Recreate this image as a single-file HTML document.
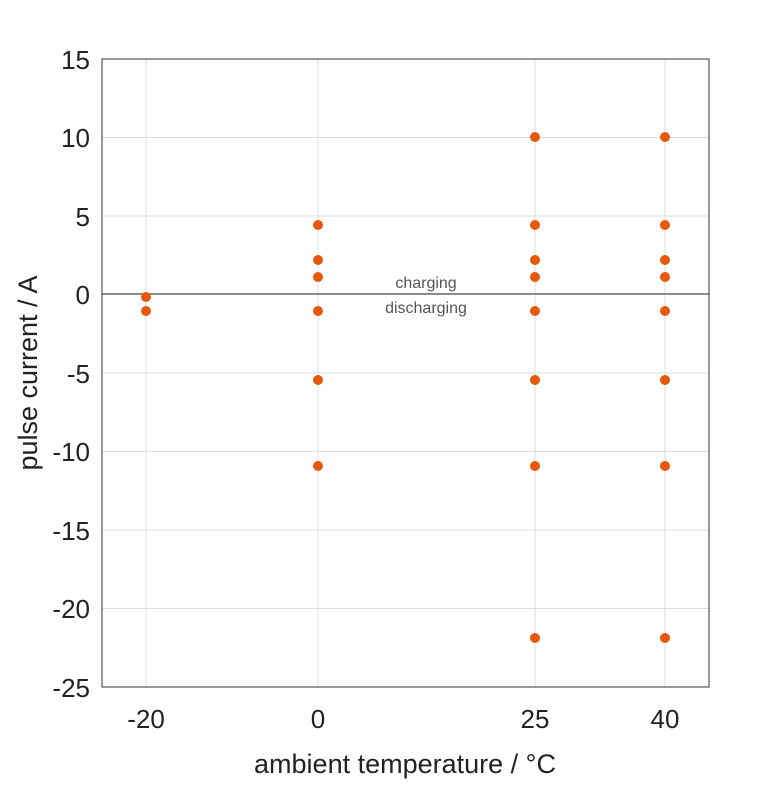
<!DOCTYPE html>
<html><head><style>body{margin:0;background:#fff}</style></head><body>
<svg width="781" height="781" xmlns="http://www.w3.org/2000/svg" font-family="Liberation Sans, sans-serif">
<rect width="781" height="781" fill="#fff"/>
<g stroke="#dcdcdc" stroke-width="1">
<line x1="146" y1="59" x2="146" y2="687"/><line x1="318" y1="59" x2="318" y2="687"/>
<line x1="535" y1="59" x2="535" y2="687"/><line x1="665" y1="59" x2="665" y2="687"/>
<line x1="102" y1="137.5" x2="709" y2="137.5"/><line x1="102" y1="216" x2="709" y2="216"/>
<line x1="102" y1="373" x2="709" y2="373"/><line x1="102" y1="451.5" x2="709" y2="451.5"/>
<line x1="102" y1="530" x2="709" y2="530"/><line x1="102" y1="608.5" x2="709" y2="608.5"/>
</g>
<line x1="102" y1="294" x2="709" y2="294" stroke="#666" stroke-width="1.5"/>
<rect x="102" y="59" width="607" height="628" fill="none" stroke="#333" stroke-width="1"/>
<g fill="#222" font-size="26" text-anchor="end">
<text x="90" y="69">15</text><text x="90" y="147">10</text><text x="90" y="226">5</text>
<text x="90" y="304">0</text><text x="90" y="383">-5</text><text x="90" y="461">-10</text>
<text x="90" y="540">-15</text><text x="90" y="618">-20</text><text x="90" y="697">-25</text>
</g>
<g fill="#222" font-size="26" text-anchor="middle">
<text x="146" y="728">-20</text><text x="318" y="728">0</text><text x="535" y="728">25</text><text x="665" y="728">40</text>
<text x="405" y="773" font-size="27">ambient temperature / °C</text>
</g>
<text transform="translate(37,373) rotate(-90)" fill="#222" font-size="27" text-anchor="middle">pulse current / A</text>
<g fill="#555" font-size="16" text-anchor="middle">
<text x="426" y="288">charging</text><text x="426" y="313">discharging</text>
</g>
<g fill="#e8580c">
<circle cx="146" cy="297" r="5"/><circle cx="146" cy="311" r="5"/>
<circle cx="318" cy="225" r="5"/><circle cx="318" cy="260" r="5"/><circle cx="318" cy="277" r="5"/><circle cx="318" cy="311" r="5"/><circle cx="318" cy="380" r="5"/><circle cx="318" cy="466" r="5"/>
<circle cx="535" cy="137" r="5"/><circle cx="535" cy="225" r="5"/><circle cx="535" cy="260" r="5"/><circle cx="535" cy="277" r="5"/><circle cx="535" cy="311" r="5"/><circle cx="535" cy="380" r="5"/><circle cx="535" cy="466" r="5"/><circle cx="535" cy="638" r="5"/>
<circle cx="665" cy="137" r="5"/><circle cx="665" cy="225" r="5"/><circle cx="665" cy="260" r="5"/><circle cx="665" cy="277" r="5"/><circle cx="665" cy="311" r="5"/><circle cx="665" cy="380" r="5"/><circle cx="665" cy="466" r="5"/><circle cx="665" cy="638" r="5"/>
</g>
</svg>
</body></html>
